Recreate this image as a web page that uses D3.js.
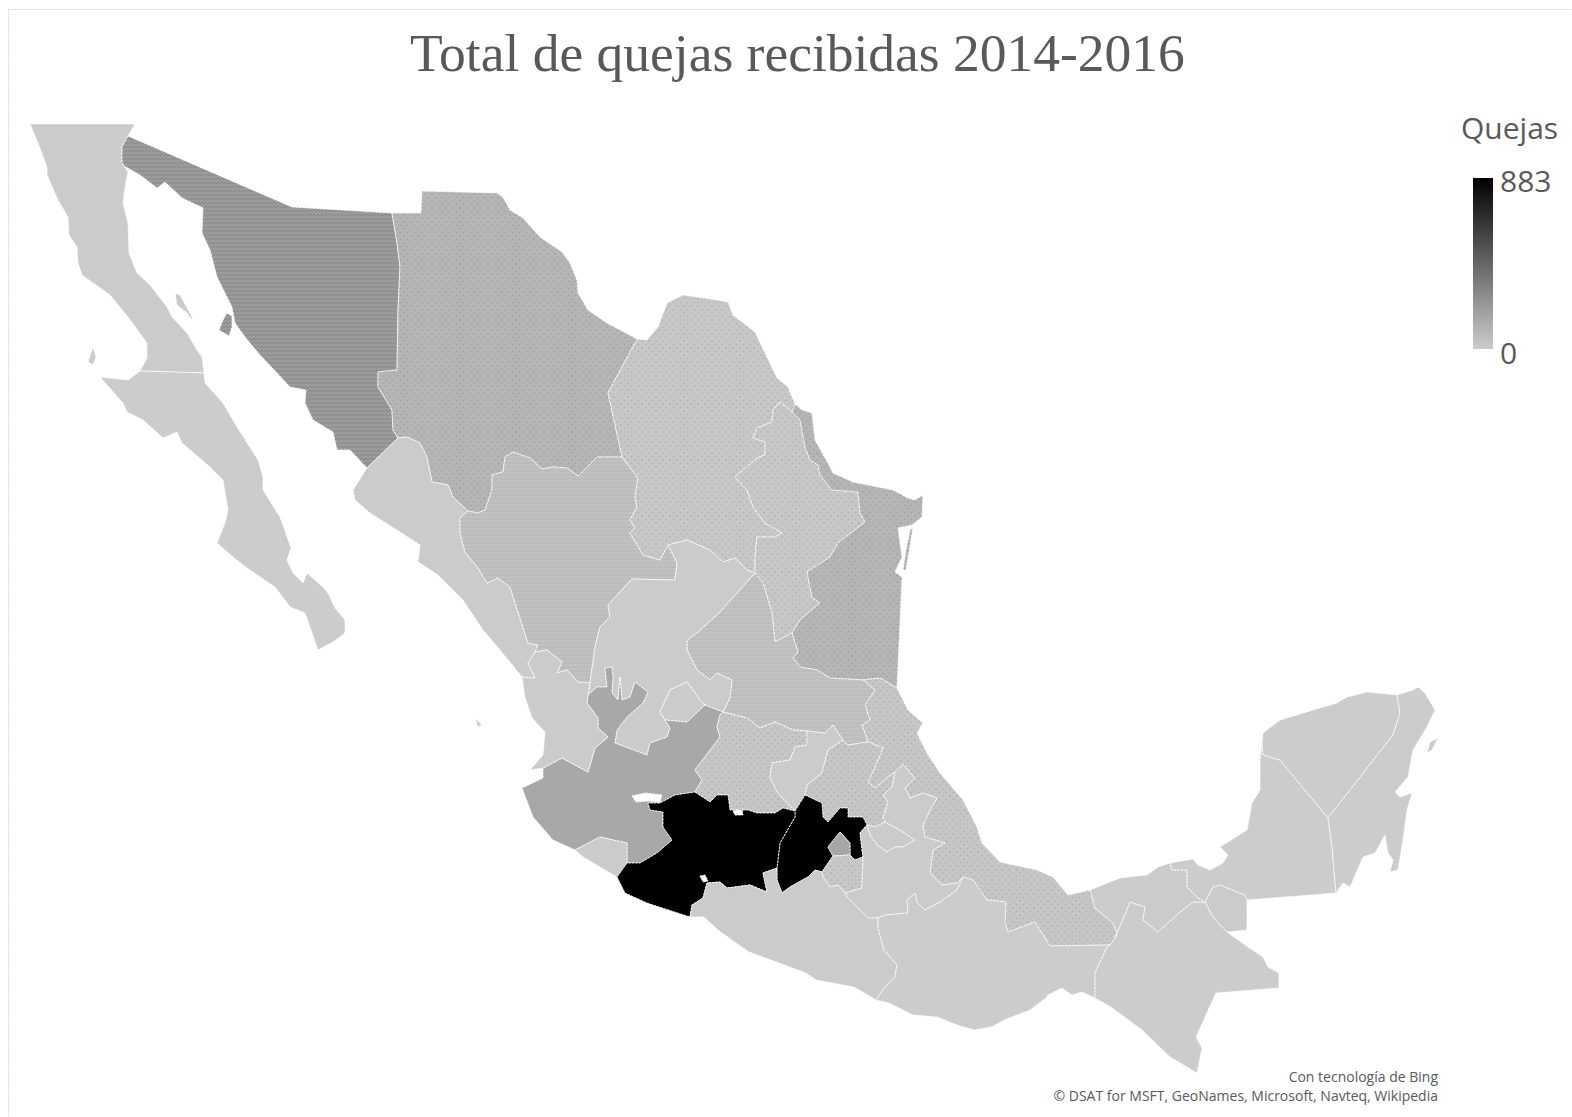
<!DOCTYPE html>
<html lang="es">
<head>
<meta charset="utf-8">
<title>Total de quejas recibidas 2014-2016</title>
<script src="https://cdn.jsdelivr.net/npm/d3@7"></script>
<style>
html,body{margin:0;padding:0;background:#fff;}
svg{display:block;}
text{fill:#595959;}
</style>
</head>
<body>
<svg id="chart" width="1572" height="1117"></svg>
<script>
const chartTitle = 'Total de quejas recibidas 2014-2016';
const legendTitle = 'Quejas';
const legendTicks = [0, 883];
const credits = ['Con tecnología de Bing', '© DSAT for MSFT, GeoNames, Microsoft, Navteq, Wikipedia'];

const stateNames = ['Baja California','Baja California Sur','Sonora','Chihuahua','Sinaloa','Durango','Coahuila','Nuevo León','Tamaulipas','Veracruz','San Luis Potosí','Zacatecas','Aguascalientes','Jalisco','Nayarit','Colima','Guanajuato','Querétaro','Hidalgo','México','Ciudad de México','Morelos','Tlaxcala','Puebla','Michoacán','Guerrero','Oaxaca','Chiapas','Tabasco','Campeche','Yucatán','Quintana Roo'];
const stateValues = [3,2,250,100,4,70,20,22,100,25,65,5,6,155,3,4,28,6,24,880,165,22,4,5,883,3,2,1,3,2,1,1];

// traced outlines, shared borders are stored once, "-" walks one backwards
const arcs = {
  bcNorth:[[30,124],[135,124],[128,136]],
  bcSon:[[128,136],[122,147],[122,162],[124,166]],
  bcGulf:[[124,166],[128,172],[125,187],[123,203],[128,223],[129,253],[137,273],[150,285],[167,307],[172,317],[187,333],[197,350],[202,357],[204,373]],
  bcBcs:[[204,373],[140,371]],
  bcPacific:[[140,371],[147,358],[147,343],[128,317],[110,295],[82,275],[78,263],[77,247],[69,235],[68,217],[58,200],[47,175],[47,167],[38,143],[30,124]],
  bcsCoast:[[204,373],[205,383],[223,403],[237,427],[258,460],[263,477],[263,490],[280,517],[291,548],[287,560],[293,573],[303,583],[307,573],[323,587],[328,593],[335,608],[345,620],[345,633],[333,642],[318,650],[312,633],[305,613],[290,607],[275,587],[247,568],[233,557],[217,543],[225,523],[228,510],[223,480],[210,467],[182,443],[177,432],[163,438],[143,420],[127,412],[123,403],[100,377],[128,380],[140,371]],
  sonNorth:[[128,136],[292,207],[392,213]],
  sonChi:[[392,213],[397,243],[400,267],[398,310],[397,370],[378,372],[378,387],[392,410],[393,430],[398,438]],
  sonSin:[[398,438],[367,468]],
  sonCoast:[[367,468],[350,450],[337,450],[333,432],[313,420],[305,403],[306,390],[290,387],[277,373],[260,355],[245,337],[235,323],[232,307],[217,277],[210,250],[202,233],[203,208],[182,198],[165,182],[157,188],[140,175],[124,166]],
  chiNorth:[[392,213],[421,213],[422,191],[497,193],[503,197],[510,210],[523,218],[540,237],[562,252],[570,263],[577,280],[578,293],[588,310],[607,323],[637,339]],
  chiCoa:[[637,339],[608,393],[622,457]],
  chiDur:[[622,457],[597,457],[578,476],[567,468],[552,467],[542,469],[530,458],[513,452],[505,457],[503,472],[492,475],[492,490],[485,510],[478,513],[468,511]],
  chiSin:[[468,511],[453,497],[448,485],[432,482],[427,457],[420,443],[407,437],[398,438]],
  sinCoast:[[367,468],[353,490],[355,500],[370,513],[400,532],[420,545],[418,562],[438,575],[463,600],[483,630],[500,650],[522,677]],
  sinNay:[[522,677],[535,678],[528,663],[535,652]],
  sinDur:[[535,652],[538,645],[528,643],[515,603],[510,587],[498,578],[487,583],[478,568],[465,552],[460,533],[460,518],[468,511]],
  durNay:[[535,652],[547,650],[562,662],[557,673],[567,670],[578,682],[590,683]],
  durZac:[[590,683],[595,647],[600,627],[610,617],[608,605],[632,579],[675,580],[677,563],[668,545]],
  durCoa:[[668,545],[660,560],[643,555],[630,533],[635,528],[630,520],[637,507],[635,497],[638,478],[622,457]],
  coaNorth:[[637,339],[647,340],[658,327],[667,303],[683,295],[717,300],[728,302],[733,315],[755,332],[765,353],[777,378],[788,387],[795,404]],
  coaTam:[[795,404],[792,412]],
  coaNl:[[792,412],[780,402],[773,410],[772,422],[757,428],[753,438],[765,442],[765,455],[757,458],[735,477],[747,490],[753,507],[765,523],[782,533],[775,537],[757,537],[755,557],[755,573]],
  coaZac:[[755,573],[747,570],[735,558],[723,562],[710,550],[687,540],[668,545]],
  nlSlp:[[755,573],[763,583],[772,613],[775,642],[792,633]],
  nlTam:[[792,412],[800,420],[805,447],[810,460],[818,465],[820,475],[832,490],[858,492],[860,513],[865,522],[838,543],[830,557],[807,572],[812,597],[820,603],[800,620],[792,633]],
  tamCoast:[[795,404],[802,410],[812,413],[815,440],[830,467],[833,473],[853,482],[893,490],[908,498],[915,500],[923,495],[922,517],[912,525],[898,528],[902,557],[895,572],[902,577],[900,623],[897,688]],
  tamVer:[[863,680],[880,678],[897,688]],
  tamSlp:[[792,633],[798,652],[793,658],[800,667],[817,670],[830,678],[863,680]],
  verCoast:[[897,688],[908,710],[923,723],[917,733],[927,753],[940,773],[963,800],[977,827],[982,843],[1000,862],[1037,870],[1053,877],[1068,895],[1090,890]],
  verTab:[[1090,890],[1095,908],[1113,923],[1117,933],[1115,938]],
  verChp:[[1115,938],[1110,945]],
  verOax:[[1110,945],[1050,946],[1035,922],[1008,932],[1005,923],[1006,902],[987,900],[973,880],[963,877]],
  verPue:[[963,877],[957,883],[942,885],[930,873],[933,850],[945,843],[925,837],[923,825],[930,810],[937,798],[923,793],[910,798],[905,788],[915,778],[903,764],[895,772]],
  verHgo:[[895,772],[888,777],[875,788],[868,782],[875,767],[883,748],[868,742]],
  verSlp:[[868,742],[862,725],[870,720],[865,705],[875,690],[863,680]],
  slpHgo:[[868,742],[848,745],[843,740]],
  slpQro:[[843,740],[833,725],[825,733],[807,731]],
  slpGto:[[807,731],[793,730],[775,722],[760,728],[747,718],[723,712]],
  slpZac:[[723,712],[730,698],[732,680],[717,673],[710,680],[697,670],[687,650],[687,640],[697,633],[720,612],[737,593],[755,573]],
  zacJal1:[[723,712],[705,705]],
  zacAgs:[[705,705],[700,700],[687,682],[670,690],[660,712],[665,720]],
  zacJal2:[[665,720],[670,728],[667,737],[650,743],[647,755],[615,743],[617,730],[627,717],[643,703],[648,692],[635,682],[630,697],[622,700],[620,677],[618,700],[612,693],[613,677],[612,667],[605,668],[607,687],[597,687],[588,695]],
  zacNay:[[588,695],[590,683]],
  agsJal:[[705,705],[687,722],[665,720]],
  jalNay:[[588,695],[587,703],[598,718],[598,728],[608,737],[595,748],[588,772],[562,758],[543,768]],
  jalCoast:[[543,768],[543,778],[522,788],[533,817],[553,840],[575,850]],
  jalCol:[[575,850],[600,837],[613,840],[627,843],[627,863]],
  jalMich:[[627,863],[640,863],[657,853],[672,840],[663,827],[663,812],[650,810],[648,803],[660,803],[675,795],[695,792]],
  jalGto:[[695,792],[702,780],[695,770],[720,737],[717,727],[720,715],[723,712]],
  nayCoast:[[543,768],[530,770],[543,755],[545,732],[532,718],[525,697],[522,677]],
  colMich:[[627,863],[617,877]],
  colCoast:[[617,877],[583,857],[575,850]],
  gtoQro:[[807,731],[807,745],[795,747],[790,760],[772,763],[770,777],[777,792],[795,811]],
  gtoMich:[[795,811],[783,808],[775,813],[757,813],[748,810],[730,810],[728,795],[717,795],[710,802],[695,792]],
  qroMex:[[795,811],[805,795]],
  qroHgo:[[805,795],[807,785],[822,773],[828,750],[843,740]],
  hgoMex:[[805,795],[822,803],[823,817],[828,822],[840,808],[848,808],[848,817],[863,817],[867,825]],
  hgoTla:[[867,825],[875,827],[885,822]],
  hgoPue:[[885,822],[883,818],[888,802],[883,795],[892,787],[895,772]],
  mexPue:[[867,825],[860,833],[863,857]],
  mexMor:[[863,857],[855,860],[850,855]],
  mexDf:[[850,855],[850,843],[840,832],[828,847],[833,856]],
  mexMor2:[[833,856],[822,872]],
  mexGue:[[822,872],[815,870],[808,877],[790,887],[782,893],[777,880],[777,868]],
  mexMich:[[777,868],[780,843],[795,817],[795,811]],
  dfMor:[[833,856],[850,855]],
  morPue:[[863,857],[862,888],[845,893]],
  morGue:[[845,893],[838,885],[830,887],[823,877],[822,872]],
  tlaPue:[[885,822],[900,830],[915,840],[903,847],[895,847],[887,852],[877,845],[870,835],[867,825]],
  pueOax:[[963,877],[957,890],[940,902],[925,910],[917,902],[915,893],[907,900],[908,913],[885,915],[878,918]],
  pueGue:[[878,918],[868,918],[847,897],[845,893]],
  michGue:[[777,868],[763,873],[767,892],[750,885],[727,888],[720,882],[707,883],[703,898],[692,905],[690,917]],
  michCoast:[[690,917],[647,903],[625,893],[617,877]],
  gueOax:[[878,918],[878,928],[884,950],[897,965],[895,977],[884,988],[876,1000]],
  gueCoast:[[876,1000],[854,987],[816,980],[806,973],[771,960],[749,952],[729,938],[718,930],[704,917],[690,917]],
  oaxChp:[[1110,945],[1107,947],[1095,973],[1095,998]],
  oaxCoast:[[1095,998],[1082,992],[1072,995],[1062,988],[1048,995],[1046,998],[1030,1010],[1004,1020],[992,1027],[974,1030],[957,1025],[937,1017],[913,1015],[889,1003],[876,1000]],
  chpTab:[[1115,938],[1130,902],[1145,907],[1143,920],[1158,932],[1180,912],[1193,902],[1205,902]],
  chpEast:[[1205,902],[1213,917],[1227,932]],
  chpGua:[[1227,932],[1248,947],[1263,957],[1268,967],[1279,973],[1279,988],[1216,993],[1196,1037],[1202,1048],[1197,1073]],
  chpCoast:[[1197,1073],[1170,1057],[1142,1030],[1111,1007],[1095,998]],
  tabCoast:[[1090,890],[1120,878],[1147,875],[1158,867],[1170,863]],
  tabCam:[[1170,863],[1172,870],[1187,870],[1187,887],[1198,898],[1205,902]],
  camLobe:[[1205,902],[1213,887],[1220,885],[1245,895],[1247,900]],
  lobeCoast:[[1247,900],[1247,930],[1227,932]],
  camCoast:[[1170,863],[1193,859],[1198,865],[1210,870],[1223,863],[1228,855],[1220,847],[1247,830],[1252,803],[1260,790],[1260,760],[1262,742]],
  camYuc:[[1262,742],[1263,755],[1280,760],[1328,818]],
  camQro:[[1328,818],[1332,847],[1336,893]],
  camSouth:[[1336,893],[1247,900]],
  yucCoast:[[1262,742],[1263,733],[1280,720],[1313,710],[1337,703],[1347,697],[1367,692],[1397,695]],
  yucQro:[[1397,695],[1400,713],[1393,735],[1328,818]],
  qrCoast:[[1397,695],[1413,690],[1418,687],[1425,693],[1435,710],[1427,727],[1413,750],[1408,777],[1395,792],[1400,797],[1412,793],[1407,810],[1403,840],[1398,870],[1390,872],[1393,860],[1388,853],[1385,835],[1375,853],[1363,857],[1350,887],[1343,883],[1336,893]],
  // islands and lakes
  cedros:[[93,347],[96,357],[93,365],[88,362],[93,347]],
  guarda:[[175,293],[180,295],[192,317],[193,321],[187,313],[177,305],[175,293]],
  tiburon:[[227,313],[232,316],[232,327],[229,336],[219,330],[223,320],[227,313]],
  marias:[[475,718],[482,725],[478,727],[475,718]],
  barrera:[[913,527],[909,552],[906,570],[903,570],[906,550],[910,530],[913,527]],
  cozumel:[[1427,753],[1430,742],[1438,738],[1432,750],[1427,753]],
  chapala:[[632,796],[645,793],[662,795],[660,802],[648,801],[636,802],[632,796]],
  cuitzeo:[[733,811],[742,809],[743,815],[735,815],[733,811]],
  infiernillo:[[700,876],[705,875],[708,881],[703,882],[700,876]]
};

// one entry per state: polygons, each a list of rings (outer, then holes), each a list of arcs
const stateRings = [
  [[['bcNorth','bcSon','bcGulf','bcBcs','bcPacific']],[['cedros']],[['guarda']]],
  [[['-bcBcs','bcsCoast']]],
  [[['sonNorth','sonChi','sonSin','sonCoast','-bcSon']],[['tiburon']]],
  [[['chiNorth','chiCoa','chiDur','chiSin','-sonChi']]],
  [[['sonSin','sinCoast','sinNay','sinDur','chiSin']]],
  [[['chiDur','-sinDur','durNay','durZac','durCoa']]],
  [[['-chiCoa','coaNorth','coaTam','coaNl','coaZac','durCoa']]],
  [[['coaNl','nlSlp','-nlTam']]],
  [[['tamCoast','-tamVer','-tamSlp','-nlTam','-coaTam']],[['barrera']]],
  [[['tamVer','verCoast','verTab','verChp','verOax','verPue','verHgo','verSlp']]],
  [[['nlSlp','tamSlp','-verSlp','slpHgo','slpQro','slpGto','slpZac']]],
  [[['durZac','-coaZac','-slpZac','zacJal1','zacAgs','zacJal2','zacNay']]],
  [[['zacAgs','-agsJal']]],
  [[['agsJal','zacJal2','jalNay','jalCoast','jalCol','jalMich','jalGto','zacJal1'],['chapala']]],
  [[['sinNay','durNay','-zacNay','jalNay','nayCoast']],[['marias']]],
  [[['jalCol','colMich','colCoast']]],
  [[['-slpGto','gtoQro','gtoMich','jalGto']]],
  [[['gtoQro','qroMex','qroHgo','slpQro']]],
  [[['-qroHgo','hgoMex','hgoTla','hgoPue','verHgo','slpHgo']]],
  [[['hgoMex','mexPue','mexMor','mexDf','mexMor2','mexGue','mexMich','qroMex']]],
  [[['mexDf','dfMor']]],
  [[['dfMor','-mexMor','morPue','morGue','-mexMor2']]],
  [[['hgoTla','tlaPue']]],
  [[['hgoPue','-verPue','pueOax','pueGue','-morPue','-mexPue','-tlaPue']]],
  [[['-gtoMich','-mexMich','michGue','michCoast','-colMich','jalMich'],['cuitzeo'],['infiernillo']]],
  [[['-michGue','-mexGue','-morGue','-pueGue','gueOax','gueCoast']]],
  [[['-pueOax','-verOax','oaxChp','oaxCoast','-gueOax']]],
  [[['-verChp','chpTab','chpEast','chpGua','chpCoast','-oaxChp']]],
  [[['tabCoast','tabCam','-chpTab','-verTab']],[['camLobe','lobeCoast','-chpEast']]],
  [[['camCoast','camYuc','camQro','camSouth','-camLobe','-tabCam']]],
  [[['yucCoast','yucQro','-camYuc']]],
  [[['qrCoast','-camQro','-yucQro']],[['cozumel']]]
];

const dotted = new Set(['Chihuahua','Coahuila','Nuevo León','Tamaulipas','Veracruz','Guanajuato','Hidalgo','Morelos']);
const woven = new Set(['Durango','San Luis Potosí','Sonora']);

const width = 1572, height = 1117;
const svg = d3.select('#chart');

const ringFrom = names => names.flatMap((name, i) => {
  const back = name[0] === '-';
  const pts = arcs[back ? name.slice(1) : name];
  const walked = back ? pts.slice().reverse() : pts;
  return i ? walked.slice(1) : walked;
});

const features = stateNames.map((name, i) => ({
  type: 'Feature',
  properties: {name, value: stateValues[i]},
  geometry: {
    type: 'MultiPolygon',
    coordinates: stateRings[i].map(poly => poly.map(ringFrom))
  }
}));

const color = d3.scaleLinear().domain(legendTicks).range(['#cccccc', '#000000']);
const path = d3.geoPath(d3.geoIdentity());

const defs = svg.append('defs');
const dots = defs.append('pattern').attr('id', 'dots').attr('patternUnits', 'userSpaceOnUse')
  .attr('width', 7).attr('height', 7);
dots.selectAll('circle').data([[1.5, 1.5], [5, 5]]).join('circle')
  .attr('cx', d => d[0]).attr('cy', d => d[1]).attr('r', 0.8).attr('fill', '#000').attr('opacity', 0.13);
const weave = defs.append('pattern').attr('id', 'weave').attr('patternUnits', 'userSpaceOnUse')
  .attr('width', 4).attr('height', 4);
weave.append('path').attr('d', 'M0,2 L2,0 L4,2').attr('fill', 'none').attr('stroke', '#fff')
  .attr('stroke-width', 0.7).attr('opacity', 0.22);

const grad = defs.append('linearGradient').attr('id', 'legendRamp')
  .attr('x1', 0).attr('x2', 0).attr('y1', 1).attr('y2', 0);
grad.selectAll('stop').data(legendTicks).join('stop')
  .attr('offset', (d, i) => i)
  .attr('stop-color', d => color(d));

// chart frame
svg.append('rect').attr('x', 8.5).attr('y', 9.5).attr('width', width).attr('height', height)
  .attr('fill', 'none').attr('stroke', '#d9d9d9').attr('stroke-dasharray', '2 1');

svg.append('text').attr('x', 797.5).attr('y', 71).attr('text-anchor', 'middle')
  .style('font-family', '"Liberation Serif"').style('font-size', '53.5px')
  .text(chartTitle);

const states = svg.append('g').attr('class', 'states');
states.selectAll('path.area').data(features).join('path')
  .attr('class', 'area')
  .attr('d', path)
  .attr('fill', d => color(d.properties.value))
  .attr('fill-rule', 'evenodd')
  .attr('stroke', '#fff').attr('stroke-width', 1).attr('stroke-opacity', 0.85)
  .attr('stroke-dasharray', '2.5 1')
  .attr('stroke-linejoin', 'round');

states.selectAll('path.texture').data(features.filter(d => dotted.has(d.properties.name) || woven.has(d.properties.name))).join('path')
  .attr('class', 'texture')
  .attr('d', path)
  .attr('fill', d => dotted.has(d.properties.name) ? 'url(#dots)' : 'url(#weave)')
  .attr('fill-rule', 'evenodd')
  .attr('pointer-events', 'none');

// legend
const legendY = d3.scaleLinear().domain(legendTicks).range([349, 178]);
const legend = svg.append('g').attr('class', 'legend');
legend.append('text').attr('x', 1461).attr('y', 139)
  .style('font-family', '"Open Sans"').style('font-size', '30px')
  .text(legendTitle);
legend.append('rect').attr('x', 1473).attr('y', legendY(883)).attr('width', 20)
  .attr('height', legendY(0) - legendY(883)).attr('fill', 'url(#legendRamp)');
legend.selectAll('text.tick').data(legendTicks).join('text')
  .attr('class', 'tick')
  .attr('x', 1500)
  .attr('y', d => legendY(d) + (d ? 14 : 15))
  .style('font-family', '"Open Sans"').style('font-size', '30px')
  .text(d => d);

svg.selectAll('text.credit').data(credits).join('text')
  .attr('class', 'credit')
  .attr('x', 1438).attr('y', (d, i) => 1082 + i * 19)
  .attr('text-anchor', 'end')
  .style('font-family', '"Open Sans"').style('font-size', '14px')
  .text(d => d);
</script>
</body>
</html>
